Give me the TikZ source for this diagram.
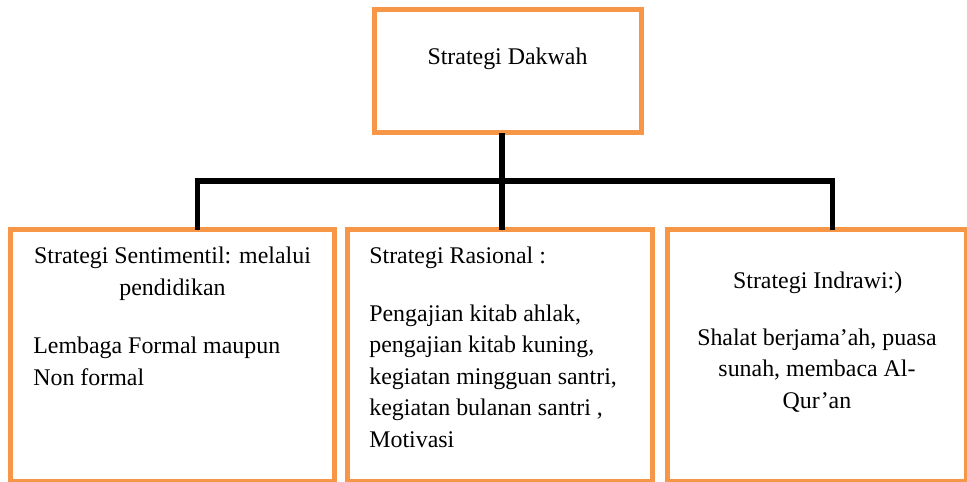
\documentclass[tikz,border=0pt]{standalone}
\usepackage{fontspec}
\setmainfont{Liberation Serif}
\usetikzlibrary{positioning, calc}
\definecolor{myorange}{RGB}{247,150,70}
\tikzset{
  box/.style={rectangle, draw=myorange, line width=0.1cm,
    inner sep=0pt, outer sep=0pt},
  txt/.style={inner sep=0pt, font=\fontsize{13.6}{17.9}\selectfont},
  line/.style={draw, line width=0.11cm, color=black}
}

\begin{document}
\begin{tikzpicture}[x=0.02cm, y=-0.02cm]
  \useasboundingbox (0,0) rectangle (967,481);

  % Boxes
  \node[box, minimum width=5.35cm, minimum height=2.47cm] (dakwah) at (507.75,71.25) {};
  \node[box, minimum width=6.49cm, minimum height=5.04cm] (sentimentil) at (172.75,355.5) {};
  \node[box, minimum width=6.12cm, minimum height=5.04cm] (rasional) at (500,355.5) {};
  \node[box, minimum width=5.99cm, minimum height=5.04cm] (indrawi) at (816.75,355.5) {};

  % Texts (base = last line)
  \node[txt, anchor=base] (dakwahText) at (507.5,64) {Strategi Dakwah};
  \node[txt, anchor=base, align=center] (sentHead) at (172.5,295) {Strategi Sentimentil: melalui\\pendidikan};
  \node[txt, anchor=base west, align=left] (sentBody) at (33,385) {Lembaga Formal maupun\\Non formal};
  \node[txt, anchor=base west] (rasHead) at (369,263) {Strategi Rasional :};
  \node[txt, anchor=base west, align=left] (rasBody) at (369,447.3) {Pengajian kitab ahlak,\\pengajian kitab kuning,\\kegiatan mingguan santri,\\kegiatan bulanan santri ,\\Motivasi};
  \node[txt, anchor=base] (indHead) at (817.7,288.3) {Strategi Indrawi:)};
  \node[txt, anchor=base, align=center] (indBody) at (817,408.3) {Shalat berjama’ah, puasa\\sunah, membaca Al-\\Qur’an};

  % Connectors
  \coordinate (busL) at (197.5,181);
  \coordinate (busM) at (502,181);
  \coordinate (busR) at (832.7,181);
  \draw[line] (busM |- dakwah.south) -- (busM |- rasional.north);
  \draw[line] (busL |- sentimentil.north) -- (busL) -- (busR) -- (busR |- indrawi.north);
\end{tikzpicture}
\end{document}
